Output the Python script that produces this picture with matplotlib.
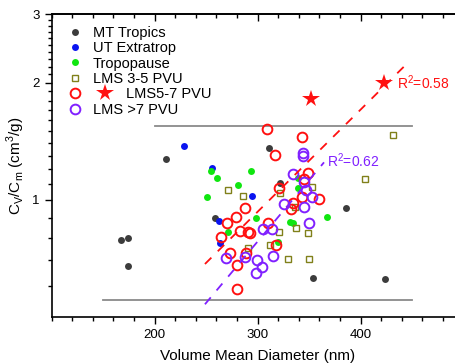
import numpy as np
import matplotlib
matplotlib.use('Agg')
import matplotlib.pyplot as plt
from matplotlib.lines import Line2D
from matplotlib.legend_handler import HandlerBase
from matplotlib.ticker import FixedLocator, MultipleLocator, NullFormatter

plt.rcParams['font.family'] = 'Liberation Sans'
plt.rcParams['mathtext.fontset'] = 'custom'
plt.rcParams['mathtext.rm'] = 'Liberation Sans'

# MT Tropics
mt_x = [211, 310.7, 258.5, 167.3, 174.4, 173.8, 321.7, 385.4, 353.4, 423.6]
mt_y = [1.276, 1.36, 0.898, 0.789, 0.800, 0.677, 1.104, 0.952, 0.630, 0.626]
# UT Extratrop
ut_x = [228.4, 255.6, 262.7, 263.4, 294.2]
ut_y = [1.378, 1.206, 0.884, 0.774, 1.024]
# Tropopause
tp_x = [254.4, 260.8, 293.5, 338.8, 251, 271.5, 280.6, 339.4, 298, 367, 331.4, 334.6, 319.4]
tp_y = [1.19, 1.137, 1.19, 1.137, 1.016, 0.829, 1.093, 1.072, 0.898, 0.906, 0.88, 0.874, 0.782]
# LMS 3-5 PVU
l35_x = [431.7, 404.2, 271.5, 353, 286, 321.7, 336.2, 337.2, 321, 349.1, 312, 290.3, 329.7, 350.1]
l35_y = [1.468, 1.132, 1.061, 1.082, 1.024, 1.04, 0.961, 0.849, 0.826, 0.821, 0.767, 0.754, 0.705, 0.705]
# LMS 5-7 PVU
l57_x = [308.7, 342.7, 316.8, 349.1, 345, 321, 343.3, 359.5, 334.6, 332.3, 287.7, 278.9,
         269.9, 309.7, 264, 282.8, 290.9, 292.5, 317.5, 273.1, 288.3, 279.6, 279.6]
l57_y = [1.519, 1.448, 1.305, 1.171, 1.13, 1.075, 1.02, 1.004, 0.981, 0.948, 0.955, 0.906,
         0.871, 0.871, 0.802, 0.834, 0.829, 0.821, 0.767, 0.732, 0.732, 0.681, 0.590]
star_x = [422.6, 351.7]
star_y = [2.0, 1.813]
# LMS >7 PVU
l7_x = [344.3, 344.3, 334, 345, 346.6, 353, 325.8, 345.2, 350.1, 304.9, 313.6, 287.7,
        315.2, 269.2, 299.6, 303.9, 298.3]
l7_y = [1.323, 1.30, 1.166, 1.114, 1.061, 1.016, 0.975, 0.958, 0.874, 0.841, 0.841, 0.713,
        0.718, 0.708, 0.702, 0.672, 0.651]

# fits: log10(y) = a + b*x
fit57_a, fit57_b, fit57_x = -0.8166, 0.002622, [248.8, 445]
fit7_a, fit7_b, fit7_x = -1.0516, 0.003151, [248.8, 364.4]

# gray limit lines
top_x, top_y = [200, 450], 1.55
bot_x, bot_y = [150, 450], 0.555

fig = plt.figure(figsize=(4.55, 3.63), dpi=100)
ax = fig.add_axes([0.1136, 0.1259, 0.9055, 0.8353])

c_mt = '#3c3c3c'
c_ut = '#0a14f0'
c_tp = '#10e610'
c_35 = '#80801a'
c_57 = '#ff1010'
c_7 = '#8020ff'

ax.plot(top_x, [top_y, top_y], color='#8a8a8a', lw=1.3)
ax.plot(bot_x, [bot_y, bot_y], color='#8a8a8a', lw=1.3)

ax.plot(mt_x, mt_y, 'o', color=c_mt, ms=5, mew=0, ls='none')
ax.plot(ut_x, ut_y, 'o', color=c_ut, ms=5, mew=0, ls='none')
ax.plot(tp_x, tp_y, 'o', color=c_tp, ms=5, mew=0, ls='none')
ax.plot(l35_x, l35_y, 's', mec=c_35, mfc='none', ms=5, mew=1.0, ls='none')
ax.plot(l57_x, l57_y, 'o', mec=c_57, mfc='none', ms=7, mew=1.4, ls='none')
ax.plot(l7_x, l7_y, 'o', mec=c_7, mfc='none', ms=7, mew=1.4, ls='none')
ax.plot(star_x, star_y, '*', color=c_57, ms=13, mew=0, ls='none')

xf = np.linspace(fit57_x[0], fit57_x[1], 50)
ax.plot(xf, 10 ** (fit57_a + fit57_b * xf), color=c_57, lw=1.3, dashes=(5, 5))
xf = np.linspace(fit7_x[0], fit7_x[1], 50)
ax.plot(xf, 10 ** (fit7_a + fit7_b * xf), color=c_7, lw=1.3, dashes=(5, 5))

ax.text(435, 2.0, 'R$^2$=0.58', color=c_57, fontsize=10, va='center')
ax.text(367, 1.259, 'R$^2$=0.62', color=c_7, fontsize=10, va='center')

ax.set_yscale('log')
ax.set_xlim(100, 500)
ax.set_ylim(0.5, 3)
ax.xaxis.set_major_locator(FixedLocator([200, 300, 400]))
ax.xaxis.set_minor_locator(MultipleLocator(20))
ax.yaxis.set_major_locator(FixedLocator([1, 2, 3]))
ax.yaxis.set_major_formatter(matplotlib.ticker.FuncFormatter(lambda v, p: '%g' % v))
minor_y = [v / 10 for v in range(6, 30) if v % 10 != 0]
ax.yaxis.set_minor_locator(FixedLocator(minor_y))
ax.yaxis.set_minor_formatter(NullFormatter())
ax.tick_params(which='major', direction='out', length=5, width=1, labelsize=9.5)
ax.tick_params(which='minor', direction='out', length=3, width=1)
ax.spines['right'].set_visible(False)
for s in ['left', 'bottom', 'top']:
    ax.spines[s].set_linewidth(1.2)

top = ax.secondary_xaxis('top')
top.xaxis.set_major_locator(FixedLocator([200, 300, 400]))
top.xaxis.set_minor_locator(MultipleLocator(20))
top.tick_params(which='major', direction='in', length=5, width=1, labeltop=False)
top.tick_params(which='minor', direction='in', length=3, width=1)
top.spines['top'].set_linewidth(1.2)

ax.set_xlabel('Volume Mean Diameter (nm)', fontsize=11, labelpad=6)
ax.set_ylabel(r'C$_\mathregular{V}$/C$_\mathregular{m}$ (cm$^\mathregular{3}$/g)', fontsize=11, labelpad=4)


class CircleStar(HandlerBase):
    def create_artists(self, legend, orig_handle, xdescent, ydescent,
                       width, height, fontsize, trans):
        y = height / 2 - ydescent
        x = width / 2 - xdescent
        c = Line2D([x], [y], marker='o', mec=c_57, mfc='none', ms=7, mew=1.4, ls='none', transform=trans)
        s = Line2D([x + 21], [y], marker='*', color=c_57, ms=13, mew=0, ls='none', transform=trans)
        return [c, s]


h_mt = Line2D([], [], marker='o', color=c_mt, ms=5, mew=0, ls='none')
h_ut = Line2D([], [], marker='o', color=c_ut, ms=5, mew=0, ls='none')
h_tp = Line2D([], [], marker='o', color=c_tp, ms=5, mew=0, ls='none')
h_35 = Line2D([], [], marker='s', mec=c_35, mfc='none', ms=5, mew=1.0, ls='none')
h_57 = ('lms57',)
h_7 = Line2D([], [], marker='o', mec=c_7, mfc='none', ms=7, mew=1.4, ls='none')

leg = ax.legend([h_mt, h_ut, h_tp, h_35, h_57, h_7],
                ['MT Tropics', 'UT Extratrop', 'Tropopause', 'LMS 3-5 PVU',
                 '        LMS5-7 PVU', 'LMS >7 PVU'],
                handler_map={tuple: CircleStar()},
                loc='upper left', bbox_to_anchor=(0.04, 0.962), frameon=False,
                fontsize=10.5, handlelength=1.0, handletextpad=0.7,
                labelspacing=0.1, borderpad=0, borderaxespad=0)

fig.savefig('out.png', dpi=100)
